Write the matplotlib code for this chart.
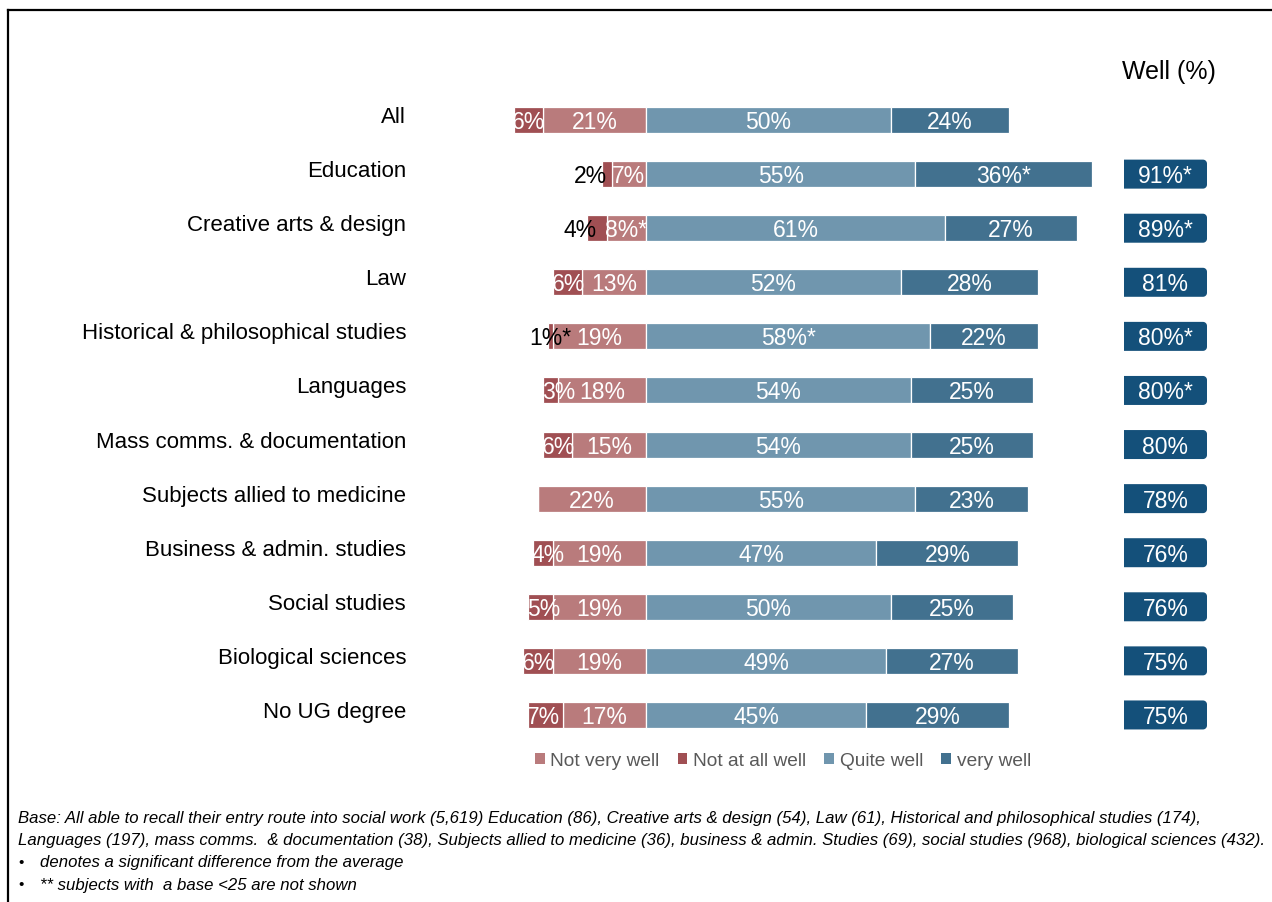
import numpy as np
import matplotlib.pyplot as plt
from matplotlib.patches import Polygon, Patch
from matplotlib.lines import Line2D
import matplotlib.transforms as mtransforms

plt.rcParams['font.family'] = ['Liberation Sans', 'DejaVu Sans']

# data
cats = ["All", "Education", "Creative arts & design", "Law",
        "Historical & philosophical studies", "Languages",
        "Mass comms. & documentation", "Subjects allied to medicine",
        "Business & admin. studies", "Social studies",
        "Biological sciences", "No UG degree"]
not_very = [21, 7, 8, 13, 19, 18, 15, 22, 19, 19, 19, 17]
not_at_all = [6, 2, 4, 6, 1, 3, 6, 0, 4, 5, 6, 7]
quite = [50, 55, 61, 52, 58, 54, 54, 55, 47, 50, 49, 45]
very = [24, 36, 27, 28, 22, 25, 25, 23, 29, 25, 27, 29]
well = [None, 91, 89, 81, 80, 80, 80, 78, 76, 76, 75, 75]

# significance stars per series
star_not_very = [0, 0, 1, 0, 0, 0, 0, 0, 0, 0, 0, 0]
star_not_at_all = [0, 0, 0, 0, 1, 0, 0, 0, 0, 0, 0, 0]
star_quite = [0, 0, 0, 0, 1, 0, 0, 0, 0, 0, 0, 0]
star_very = [0, 1, 0, 0, 0, 0, 0, 0, 0, 0, 0, 0]
star_well = [0, 1, 1, 0, 1, 1, 0, 0, 0, 0, 0, 0]

# "not at all" labels drawn in black beside the bar
outside = {1: 'right', 2: 'right', 4: 'center'}

c_nv = '#b97b7c'
c_na = '#a04f53'
c_qw = '#7096ae'
c_vw = '#42718f'
c_box = '#14507a'

W, H = 1272, 902
fig = plt.figure(figsize=(W / 100, H / 100), dpi=100)

# axes placed so that 0% sits at x=646px, 4.9px per %
left_px, right_px = 420, 1220
top_px, bot_px = 93, 742
ax = fig.add_axes([left_px / W, 1 - bot_px / H, (right_px - left_px) / W, (bot_px - top_px) / H])
ppp = 4.9
x0 = 646
unit_px = (bot_px - top_px) / len(cats)
ax.set_xlim((left_px - x0) / ppp, (right_px - x0) / ppp)
ax.set_ylim(len(cats) - 0.5, -0.5)

y = list(range(len(cats)))
h = 0.48
neg_nv = [-v for v in not_very]

kw = dict(height=h, edgecolor='white', linewidth=0.9)
ax.barh(y, neg_nv, color=c_nv, **kw)
ax.barh(y, [-v for v in not_at_all], left=neg_nv, color=c_na, **kw)
ax.barh(y, quite, color=c_qw, **kw)
ax.barh(y, very, left=quite, color=c_vw, **kw)


def lab(v, s):
    return f"{v}%" + ("*" if s else "")


fs = 16.5
tk = dict(va='center_baseline', fontsize=fs)
for i in y:
    ax.text(-not_very[i] / 2, i, lab(not_very[i], star_not_very[i]), color='white',
            ha='center', **tk)
    if not_at_all[i] > 0:
        seg_left = -not_very[i] - not_at_all[i]
        cx = seg_left + not_at_all[i] / 2
        if i in outside:
            ax.text(cx, i, lab(not_at_all[i], star_not_at_all[i]), color='black',
                    ha=outside[i], **tk)
        else:
            ax.text(seg_left - 0.3, i, lab(not_at_all[i], star_not_at_all[i]), color='white',
                    ha='left', **tk)
    ax.text(quite[i] / 2, i, lab(quite[i], star_quite[i]), color='white',
            ha='center', **tk)
    ax.text(quite[i] + very[i] / 2, i, lab(very[i], star_very[i]), color='white',
            ha='center', **tk)


def right_rounded(xa, ya, w, hh, rx, ry, n=8):
    t = np.linspace(0, np.pi / 2, n)
    pts = [(xa, ya), (xa + w - rx, ya)]
    pts += [(xa + w - rx + rx * np.sin(a), ya + ry - ry * np.cos(a)) for a in t]
    pts += [(xa + w - rx + rx * np.cos(a), ya + hh - ry + ry * np.sin(a)) for a in t]
    pts += [(xa, ya + hh)]
    return pts


# Well (%) boxes
bx0 = (1124 - x0) / ppp
bx1 = (1207 - x0) / ppp
bh = 29 / unit_px
for i in y:
    if well[i] is None:
        continue
    ax.add_patch(Polygon(right_rounded(bx0, i - bh / 2, bx1 - bx0, bh, 4 / ppp, 4 / unit_px),
                         closed=True, facecolor=c_box, edgecolor='none', clip_on=False))
    ax.text((bx0 + bx1) / 2, i, lab(well[i], star_well[i]), color='white',
            ha='center', **tk)

fig.text(1169 / W, 1 - 72 / H, "Well (%)", ha='center', va='center', fontsize=18)

ax.set_yticks(y)
ax.set_yticklabels(cats, fontsize=16)
ax.tick_params(axis='y', length=0, pad=10)
shift = mtransforms.ScaledTranslation(0, 5 / 100, fig.dpi_scale_trans)
for t in ax.get_yticklabels():
    t.set_transform(t.get_transform() + shift)
ax.set_xticks([])
for sp in ax.spines.values():
    sp.set_visible(False)

handles = [Patch(facecolor=c, edgecolor='none') for c in (c_nv, c_na, c_qw, c_vw)]
fig.legend(handles, ["Not very well", "Not at all well", "Quite well", "very well"],
           loc='center', bbox_to_anchor=(783 / W, 1 - 761 / H), ncol=4, frameon=False,
           fontsize=13.8, handlelength=0.5, handleheight=0.5, handletextpad=0.3,
           columnspacing=0.95, labelcolor='#595959')

notes = [
    "Base: All able to recall their entry route into social work (5,619) Education (86), Creative arts & design (54), Law (61), Historical and philosophical studies (174),",
    "Languages (197), mass comms.  & documentation (38), Subjects allied to medicine (36), business & admin. Studies (69), social studies (968), biological sciences (432).",
]
bullets = [
    "denotes a significant difference from the average",
    "** subjects with  a base <25 are not shown",
]
nfs = 12.1
for k, t in enumerate(notes):
    fig.text(18 / W, 1 - (818 + 22.5 * k) / H, t, ha='left', va='center',
             fontsize=nfs, style='italic')
for k, t in enumerate(bullets):
    yy = 1 - (863 + 22.5 * k) / H
    fig.text(18 / W, yy, "\u2022", ha='left', va='center', fontsize=11)
    fig.text(40 / W, yy, t, ha='left', va='center', fontsize=nfs, style='italic')

# outer frame (left and top edges visible)
fig.add_artist(Line2D([8 / W, 8 / W], [0, 1 - 10 / H], transform=fig.transFigure,
                      color='black', linewidth=1.6))
fig.add_artist(Line2D([8 / W, 1], [1 - 10 / H, 1 - 10 / H], transform=fig.transFigure,
                      color='black', linewidth=1.6))

fig.savefig('out.png', dpi=100)
